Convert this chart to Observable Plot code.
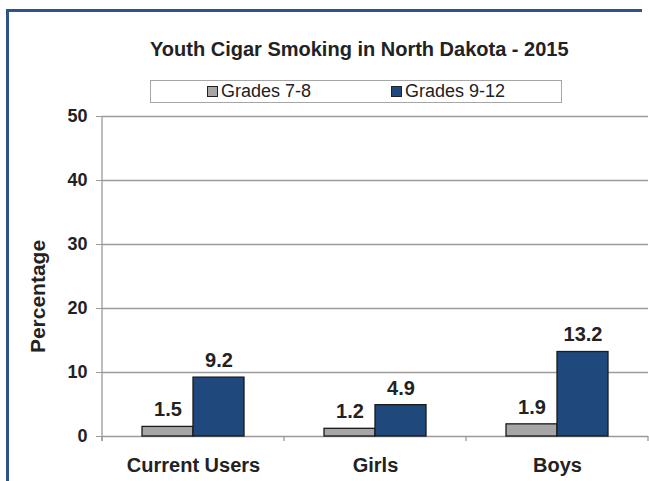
<!DOCTYPE html>
<html><head><meta charset="utf-8">
<script src="https://cdn.jsdelivr.net/npm/d3@7"></script>
<script src="https://cdn.jsdelivr.net/npm/@observablehq/plot@0.6"></script>
<style>
html,body{margin:0;padding:0;background:#fff;font-family:"Liberation Sans",Arial,sans-serif;overflow:hidden;width:649px;height:481px;}
#wrap{position:relative;width:649px;height:481px;overflow:hidden;background:#fff;}
.fr{position:absolute;background:#2E5387;}
#frameTop{left:6px;top:9px;width:636px;height:3px;}
#frameLeft{left:6px;top:9px;width:3px;height:472px;}
#title{position:absolute;left:150px;width:416px;top:39px;text-align:center;font-weight:bold;font-size:20px;line-height:20px;color:#222;white-space:nowrap;}
#legend{position:absolute;left:150px;top:80px;width:410px;height:21px;border:1px solid #A6A6A6;display:flex;align-items:center;justify-content:center;gap:80px;font-size:18px;color:#222;}
.item{display:flex;align-items:center;gap:3px;white-space:nowrap;}
.sw{width:9px;height:9px;border:1px solid #222;}
#chart{position:absolute;left:0;top:104px;}
</style></head>
<body>
<div id="wrap">
  <div class="fr" id="frameTop"></div>
  <div class="fr" id="frameLeft"></div>
  <div id="title"></div>
  <div id="legend"></div>
  <div id="chart"></div>
</div>
<script>
const categories = ["Current Users", "Girls", "Boys"];
const seriesNames = ["Grades 7-8", "Grades 9-12"];
const grades78 = [1.5, 1.2, 1.9];
const grades912 = [9.2, 4.9, 13.2];
const yTicks = [0, 10, 20, 30, 40, 50];
const colors = ["#A6A6A6", "#1F497D"];
const titleText = "Youth Cigar Smoking in North Dakota - 2015";
const yLabel = "Percentage";

const rows = categories.flatMap((c, i) => [
  {category: c, series: seriesNames[0], value: grades78[i]},
  {category: c, series: seriesNames[1], value: grades912[i]}
]);

document.getElementById("title").textContent = titleText;
const legend = document.getElementById("legend");
seriesNames.forEach((s, i) => {
  const it = document.createElement("div");
  it.className = "item";
  const sw = document.createElement("div");
  sw.className = "sw";
  sw.style.background = colors[i];
  const tx = document.createElement("span");
  tx.textContent = s;
  it.appendChild(sw); it.appendChild(tx);
  legend.appendChild(it);
});

const chart = Plot.plot({
  width: 649, height: 377,
  marginLeft: 101, marginRight: 0, marginTop: 12, marginBottom: 45,
  style: {fontFamily: "Liberation Sans, Arial, sans-serif", color: "#222", background: "transparent", overflow: "visible"},
  fx: {domain: categories, padding: 0},
  x: {domain: seriesNames, paddingInner: 0, paddingOuter: 0.77, axis: null},
  y: {domain: [0, 50]},
  color: {domain: seriesNames, range: colors},
  marks: [
    Plot.gridY(yTicks, {stroke: "#9a9a9a", strokeOpacity: 1, strokeWidth: 1.3}),
    Plot.axisY(yTicks, {tickSize: 6, tickPadding: 9, fontSize: 18, fontWeight: "bold", stroke: "#9a9a9a", fill: "#222", label: null}),
    Plot.axisFx({anchor: "bottom", tickSize: 0, tickPadding: 21, fontSize: 20, fontWeight: "bold", fill: "#222", label: null}),
    Plot.text([yLabel], {fx: () => categories[0], text: d => d, frameAnchor: "left", textAnchor: "middle", rotate: -90, dx: -64, dy: 20,
      fontSize: 21, fontWeight: "bold", fill: "#222"}),
    Plot.barY(rows, {fx: "category", x: "series", y: "value", fill: "series", stroke: "#1a1a1a", strokeWidth: 1.3}),
    Plot.text(rows, {fx: "category", x: "series", y: "value", text: d => d.value.toFixed(1), dy: -17, fontSize: 20, fontWeight: "bold", fill: "#222"})
  ]
});
document.getElementById("chart").appendChild(chart);

// axis line and category boundary ticks, positioned from the plot's own scales
const fxs = chart.scale("fx"), ys = chart.scale("y");
const svg = d3.select(chart);
const y0 = ys.apply(0), yTop = ys.apply(50);
const edges = categories.map(c => fxs.apply(c)).concat([fxs.apply(categories[categories.length - 1]) + fxs.bandwidth]);
const g = svg.insert("g", ":first-child").attr("stroke", "#9a9a9a").attr("stroke-width", 1.3);
g.append("line").attr("x1", edges[0]).attr("x2", edges[0]).attr("y1", yTop).attr("y2", y0 + 5);
edges.forEach(e => g.append("line").attr("x1", e).attr("x2", e).attr("y1", y0).attr("y2", y0 + 5));
</script>
</body></html>
